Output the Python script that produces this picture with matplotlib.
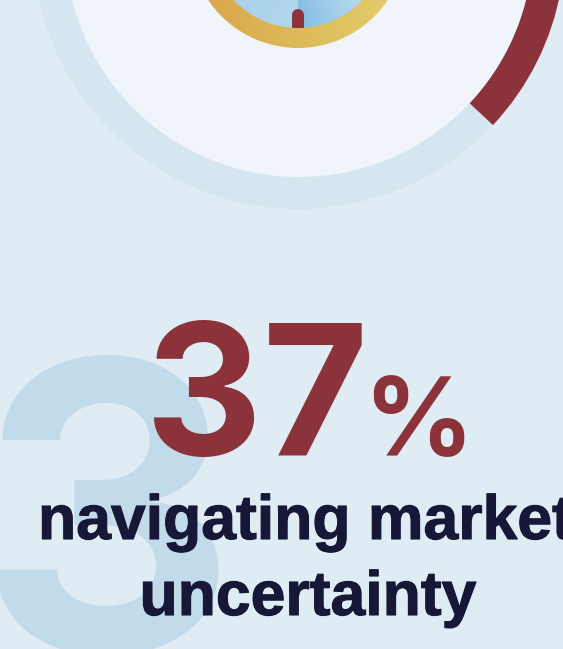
import numpy as np
import matplotlib
matplotlib.use("Agg")
import matplotlib.pyplot as plt
import matplotlib.patheffects as pe
from matplotlib.colors import to_rgb
from matplotlib.patches import Wedge, Circle

# figures shown on the card
percent = 37
rank_label = "3"
percent_label = f"{percent}"
unit_label = "%"
title_lines = ["navigating market", "uncertainty"]

WIDTH, HEIGHT = 563, 649
bgColor = "#dfecf4"
discColor = "#eff5fa"
trackColor = "#d6e6f0"
redColor = "#8c323a"
navyColor = "#171738"
rankColor = "#c2dbeb"
digitFont = "Inter"

# colour stops of the dial face, counter-clockwise from 6 o'clock
faceStops = [0, 0.13, 0.5, 0.87, 1]
faceColors = ["#85bde3", "#b8d9ee", "#d2e6f3", "#a8d2ec", "#b3d6ec"]

plt.rcParams["font.family"] = ["Liberation Sans", "DejaVu Sans"]
plt.rcParams["font.weight"] = "bold"

fig = plt.figure(figsize=(WIDTH / 100, HEIGHT / 100), dpi=100, facecolor=bgColor)
ax = fig.add_axes([0, 0, 1, 1])
ax.set_xlim(0, WIDTH)
ax.set_ylim(0, HEIGHT)
ax.axis("off")


def py(y):
    # y measured down from the top edge
    return HEIGHT - y


center = (299, py(-57))
dialCenter = (298, py(-60))
outerR, innerR = 266, 234
goldOuter, goldInner = 108, 88

# progress ring, runs clockwise from 12 o'clock
ax.add_patch(Circle(center, outerR, color=trackColor, lw=0, zorder=1))
ax.add_patch(Wedge(center, outerR, 90 - percent * 3.6, 90, width=outerR - innerR, color=redColor, lw=0, zorder=2))
ax.add_patch(Circle(center, innerR, color=discColor, lw=0, zorder=3))

# dial gradients on a pixel grid around the centre
extent = [dialCenter[0] - goldOuter, dialCenter[0] + goldOuter, dialCenter[1] - goldOuter, dialCenter[1] + goldOuter]
xs = np.linspace(-1, 1, 432)
gx, gy = np.meshgrid(xs, xs)

# blue face: conic sweep that restarts at 6 o'clock
sweep = (np.arctan2(gx, -gy) % (2 * np.pi)) / (2 * np.pi)
faceRgb = np.array([to_rgb(c) for c in faceColors])
blueImg = np.stack([np.interp(sweep, faceStops, faceRgb[:, i]) for i in range(3)], axis=-1)
face = ax.imshow(blueImg, extent=extent, origin="lower", zorder=4, aspect="auto")
face.set_clip_path(Circle(dialCenter, goldInner + 1, transform=ax.transData))

# needle, its foot is hidden under the gold rim
ax.plot([298, 298], [py(15), py(35)], color=redColor, lw=8.6, solid_capstyle="round", zorder=5)

# gold rim: left to right linear blend
goldLeft = np.array(to_rgb("#d9a348"))
goldRight = np.array(to_rgb("#e2d06c"))
goldImg = goldLeft + (goldRight - goldLeft) * ((gx + 1) / 2)[..., None]
rim = ax.imshow(goldImg, extent=extent, origin="lower", zorder=6, aspect="auto")
rim.set_clip_path(Wedge(dialCenter, goldOuter, 0, 360, width=goldOuter - goldInner, transform=ax.transData))

ax.set_xlim(0, WIDTH)
ax.set_ylim(0, HEIGHT)

# text
ax.text(-24, py(652), rank_label, fontsize=290, color=rankColor, family=digitFont, ha="left", va="baseline", zorder=7)
ax.text(257, py(455), percent_label, fontsize=131, color=redColor, family=digitFont, ha="center", va="baseline", zorder=8)
ax.text(363, py(456), unit_label, fontsize=78, color=redColor, family=digitFont, ha="left", va="baseline", zorder=8)
stroke = [pe.withStroke(linewidth=0.8, foreground=navyColor)]
ax.text(38, py(539), title_lines[0], fontsize=45, color=navyColor, ha="left", va="baseline", zorder=9, path_effects=stroke)
ax.text(308, py(615), title_lines[1], fontsize=45, color=navyColor, ha="center", va="baseline", zorder=9, path_effects=stroke)

fig.savefig("out.png", dpi=100, facecolor=bgColor)
